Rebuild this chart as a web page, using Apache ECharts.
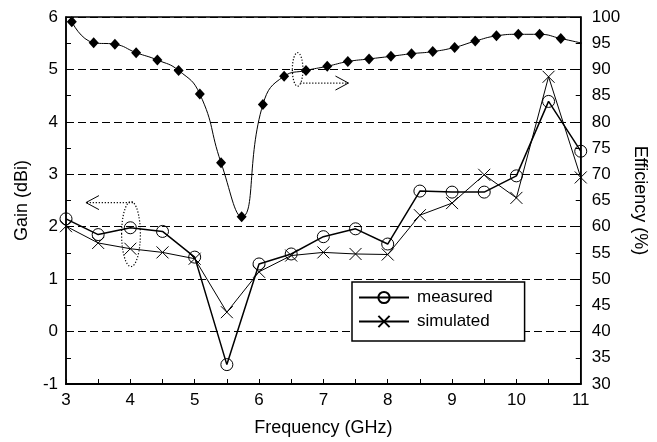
<!DOCTYPE html>
<html>
<head>
<meta charset="utf-8">
<script src="https://cdn.jsdelivr.net/npm/echarts@6/dist/echarts.min.js"></script>
<style>
html, body { margin: 0; padding: 0; background: #fff; }
#main { width: 657px; height: 442px; }
</style>
</head>
<body>
<div id="main"></div>
<script>
// gain curves, sampled every 0.5 GHz
var freq = [3, 3.5, 4, 4.5, 5, 5.5, 6, 6.5, 7, 7.5, 8, 8.5, 9, 9.5, 10, 10.5, 11];
var measured = [2.15, 1.85, 1.98, 1.91, 1.42, -0.63, 1.29, 1.48, 1.81, 1.96, 1.67, 2.68, 2.66, 2.66, 2.97, 4.39, 3.44];
var simulated = [2.01, 1.69, 1.58, 1.51, 1.39, 0.37, 1.14, 1.45, 1.51, 1.48, 1.47, 2.22, 2.45, 2.99, 2.55, 4.86, 2.94];

// efficiency curve (right axis)
var effFreq = [3.09, 3.43, 3.76, 4.09, 4.42, 4.75, 5.08, 5.41, 5.73, 6.06, 6.39, 6.73, 7.06,
               7.38, 7.71, 8.05, 8.37, 8.70, 9.04, 9.36, 9.69, 10.03, 10.36, 10.69, 11.02];
var efficiency = [99.1, 95.1, 94.8, 93.2, 91.8, 89.8, 85.3, 72.2, 61.9, 83.3, 88.7, 89.8, 90.6,
                  91.5, 92.0, 92.5, 93.0, 93.4, 94.2, 95.4, 96.4, 96.7, 96.7, 95.9, 95.0];

// annotation marks in gain-axis units: [freq, gain, halfWidthGHz, halfHeightGain]
var leftOval = [4.01, 1.86, 0.146, 0.62];
var leftArrow = [4.04, 3.31, 2.46];   // from x, to x, at gain
var rightOval = [6.60, 5.00, 0.082, 0.32];
var rightArrow = [6.64, 7.39, 4.74];

var font = 'Liberation Sans, Arial, sans-serif';

function pairs(xs, ys) {
    var out = [];
    for (var i = 0; i < xs.length; i++) out.push([xs[i], ys[i]]);
    return out;
}

var myChart = echarts.init(document.getElementById('main'));

var option = {
    animation: false,
    backgroundColor: '#fff',
    textStyle: { fontFamily: font, color: '#000' },
    grid: {
        left: 66, right: 70, top: 17, bottom: 55,
        show: true, borderColor: '#000', borderWidth: 1.5
    },
    legend: {
        data: ['measured', 'simulated'],
        orient: 'vertical',
        left: 352, top: 282,
        itemWidth: 50, itemHeight: 14, itemGap: 7,
        padding: [7, 32, 11, 6],
        backgroundColor: '#fff',
        borderColor: '#000', borderWidth: 1.5,
        textStyle: { fontFamily: font, fontSize: 17, color: '#000', padding: [0, 0, 0, 3] }
    },
    xAxis: {
        type: 'value', min: 3, max: 11, interval: 1,
        name: 'Frequency (GHz)', nameLocation: 'middle', nameGap: 35,
        nameTextStyle: { fontFamily: font, fontSize: 18, color: '#000' },
        axisLine: { onZero: false, lineStyle: { color: '#000', width: 2 } },
        axisTick: { inside: true, length: 5, lineStyle: { color: '#000' } },
        minorTick: { show: true, splitNumber: 2, length: 5, lineStyle: { color: '#000' } },
        axisLabel: { fontFamily: font, fontSize: 17, color: '#000', margin: 8 },
        splitLine: { show: false }
    },
    yAxis: [{
        type: 'value', min: -1, max: 6, interval: 1,
        name: 'Gain (dBi)', nameLocation: 'middle', nameGap: 35,
        nameTextStyle: { fontFamily: font, fontSize: 18, color: '#000' },
        axisLine: { show: true, onZero: false, lineStyle: { color: '#000', width: 1.5 } },
        axisTick: { show: true, inside: true, length: 5, lineStyle: { color: '#000' } },
        minorTick: { show: true, splitNumber: 2, length: 5, lineStyle: { color: '#000' } },
        axisLabel: { fontFamily: font, fontSize: 17, color: '#000', margin: 8 },
        splitLine: { show: true, lineStyle: { color: '#000', width: 1, type: [8, 4] } }
    }, {
        type: 'value', min: 30, max: 100, interval: 5, position: 'right',
        name: 'Efficiency (%)', nameLocation: 'middle', nameGap: 43, nameRotate: -90,
        nameTextStyle: { fontFamily: font, fontSize: 18, color: '#000' },
        axisLine: { show: true, onZero: false, lineStyle: { color: '#000', width: 1.5 } },
        axisTick: { show: true, inside: true, length: 5, lineStyle: { color: '#000' } },
        axisLabel: { fontFamily: font, fontSize: 17, color: '#000', margin: 11 },
        splitLine: { show: false }
    }],
    series: [{
        name: 'efficiency',
        type: 'line',
        yAxisIndex: 1,
        data: pairs(effFreq, efficiency),
        smooth: 0.5,
        clip: true,
        symbol: 'diamond',
        symbolSize: [10, 11],
        lineStyle: { color: '#000', width: 1 },
        itemStyle: { color: '#000' }
    }, {
        name: 'measured',
        type: 'line',
        data: pairs(freq, measured),
        symbol: 'circle',
        symbolSize: 12,
        lineStyle: { color: '#000', width: 1.5 },
        itemStyle: { color: 'rgba(0,0,0,0)', borderColor: '#000', borderWidth: 1 }
    }, {
        name: 'simulated',
        type: 'line',
        data: pairs(freq, simulated),
        symbol: 'path://M0,0L10,10M10,0L0,10',
        symbolSize: 12,
        lineStyle: { color: '#000', width: 1 },
        itemStyle: { color: 'rgba(0,0,0,0)', borderColor: '#000', borderWidth: 1 }
    }]
};

myChart.setOption(option);

// dotted ovals + arrows, placed from axis units
function px(x, y) { return myChart.convertToPixel({ gridIndex: 0 }, [x, y]); }

function oval(o) {
    var c = px(o[0], o[1]);
    var e = px(o[0] + o[2], o[1] + o[3]);
    return {
        type: 'ellipse',
        shape: { cx: c[0], cy: c[1], rx: e[0] - c[0], ry: c[1] - e[1] },
        style: { fill: 'none', stroke: '#000', lineWidth: 1.2, lineDash: [1.2, 1.8] },
        z: 50
    };
}

function arrow(a) {
    var from = px(a[0], a[2]);
    var to = px(a[1], a[2]);
    var dir = to[0] > from[0] ? -1 : 1;
    var back = to[0] + dir * 13;
    return [{
        type: 'line',
        shape: { x1: from[0], y1: from[1], x2: to[0], y2: to[1] },
        style: { stroke: '#000', lineWidth: 1.2, lineDash: [1.2, 1.8] },
        z: 50
    }, {
        type: 'polyline',
        shape: { points: [[back, to[1] - 7], [to[0], to[1]], [back, to[1] + 7]] },
        style: { fill: 'none', stroke: '#000', lineWidth: 1 },
        z: 50
    }];
}

myChart.setOption({
    graphic: [oval(leftOval), oval(rightOval)].concat(arrow(leftArrow), arrow(rightArrow))
});
</script>
</body>
</html>
